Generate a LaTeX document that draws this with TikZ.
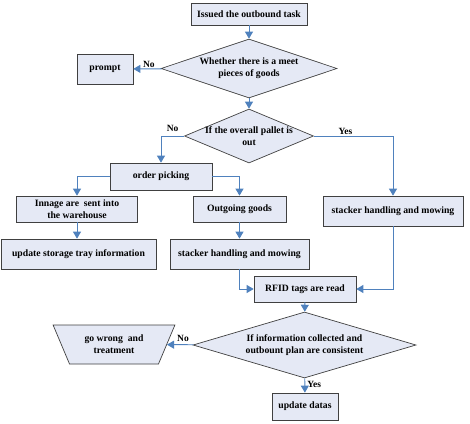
\documentclass[tikz,border=0pt]{standalone}
\usepackage{fontspec}
\setmainfont{Liberation Serif}
\usetikzlibrary{shapes.geometric,arrows.meta}
\definecolor{boxfill}{RGB}{229,233,245}
\definecolor{flowblue}{RGB}{79,129,189}

\begin{document}
\begin{tikzpicture}[x=1pt, y=-1pt, font=\bfseries\fontsize{9.7}{12}\selectfont,
	box/.style={draw=black!75, fill=boxfill, line width=0.7pt, align=center, inner sep=0pt},
	choice/.style={diamond, draw=black!75, fill=boxfill, line width=0.7pt, align=center, inner sep=0pt},
	flow/.style={draw=flowblue, line width=0.9pt, -{Triangle[width=8pt,length=7pt]}},
	lbl/.style={font=\bfseries\fontsize{9.5}{11}\selectfont, inner sep=1pt}]
 \useasboundingbox (0,0) rectangle (470,423);

 \node[box, minimum width=116pt, minimum height=22pt] (task) at (249,14) {Issued the outbound task};
 \node[choice, minimum width=176pt, minimum height=59pt, aspect=3] (meet) at (249,68.5) {Whether there is a meet\\pieces of goods};
 \node[box, minimum width=56pt, minimum height=30pt] (prompt) at (105,69) {prompt};
 \node[choice, minimum width=129pt, minimum height=54pt, aspect=2.4, inner sep=-5pt] (pallet) at (249,136) {If the overall pallet is\\out};
 \node[box, minimum width=102pt, minimum height=27pt] (picking) at (161,176.5) {order picking};
 \node[box, minimum width=121pt, minimum height=26pt] (innage) at (77,209) {Innage are\ \ sent into\\the warehouse};
 \node[box, minimum width=93pt, minimum height=26pt] (outgoing) at (239.5,209) {Outgoing goods};
 \node[box, minimum width=140pt, minimum height=30pt] (stackerR) at (393,211) {stacker handling and mowing};
 \node[box, minimum width=155pt, minimum height=30pt] (tray) at (78.5,254) {update storage tray information};
 \node[box, minimum width=139pt, minimum height=30pt] (stackerL) at (239.5,254) {stacker handling and mowing};
 \node[box, minimum width=102pt, minimum height=26pt] (rfid) at (305,289) {RFID tags are read};
 \node[choice, minimum width=223pt, minimum height=66pt, aspect=3.4] (consistent) at (304.5,345) {If information collected and\\outbount plan are consistent};
 \node[trapezium, trapezium stretches=true, shape border rotate=180,
	trapezium left angle=60, trapezium right angle=60,
	draw=black!75, fill=boxfill, line width=0.7pt, align=center, inner sep=0pt,
	minimum width=122pt, minimum height=39pt] (wrong) at (114,344.5) {go wrong\ \ and\\treatment};
 \node[box, minimum width=66pt, minimum height=27pt] (datas) at (305,406.5) {update datas};

 \draw[flow] (task) -- (meet);
 \draw[flow] (meet) -- node[lbl, above, pos=0.45] {No} (prompt);
 \draw[flow] (meet) -- (pallet);
 \draw[flow] (pallet.west) -| node[lbl, above, pos=0.25, yshift=3pt] {No} (picking.north);
 \draw[flow] (pallet.east) -| node[lbl, above, pos=0.2] {Yes} (stackerR.north);
 \draw[flow] (picking.west) -| (innage.north);
 \draw[flow] (picking.east) -| (outgoing.north);
 \draw[flow] (innage.south) -- (innage.south |- tray.north);
 \draw[flow] (outgoing) -- (stackerL);
 \draw[flow] (stackerL.south) |- (rfid.west);
 \draw[flow] (stackerR.south) |- (rfid.east);
 \draw[flow] (rfid) -- (consistent);
 \draw[flow] (consistent) -- node[lbl, above, pos=0.4, yshift=2pt] {No} (wrong);
 \draw[flow] (consistent) -- node[lbl, right, pos=0.45, xshift=1pt] {Yes} (datas);
\end{tikzpicture}
\end{document}
